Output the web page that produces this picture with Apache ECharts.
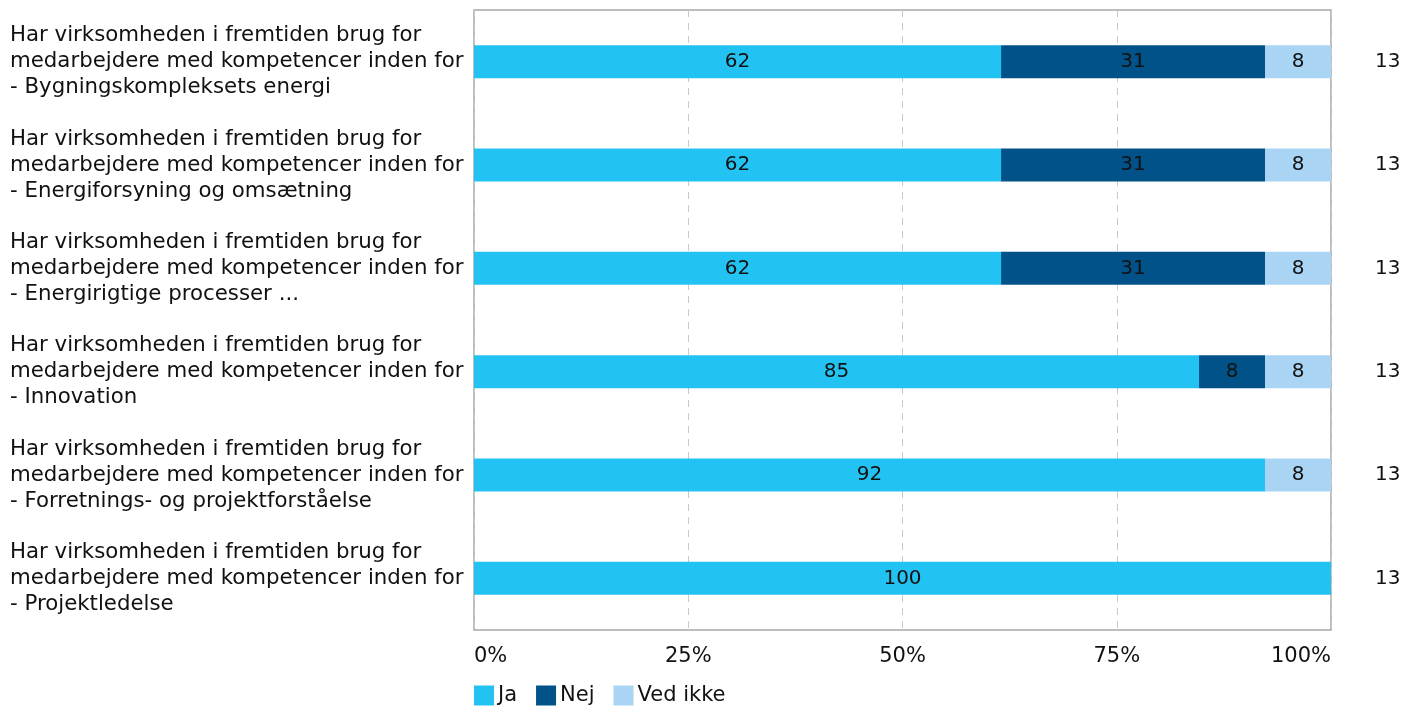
<!DOCTYPE html>
<html><head><meta charset="utf-8">
<script src="https://cdn.jsdelivr.net/npm/echarts@6/dist/echarts.min.js"></script>
<style>html,body{margin:0;padding:0;background:#fff}#c{width:1406px;height:706px}</style>
</head><body><div id="c"></div>
<script>
const categories = [
 "Har virksomheden i fremtiden brug for\nmedarbejdere med kompetencer inden for\n- Bygningskompleksets energi",
 "Har virksomheden i fremtiden brug for\nmedarbejdere med kompetencer inden for\n- Energiforsyning og omsætning",
 "Har virksomheden i fremtiden brug for\nmedarbejdere med kompetencer inden for\n- Energirigtige processer ...",
 "Har virksomheden i fremtiden brug for\nmedarbejdere med kompetencer inden for\n- Innovation",
 "Har virksomheden i fremtiden brug for\nmedarbejdere med kompetencer inden for\n- Forretnings- og projektforståelse",
 "Har virksomheden i fremtiden brug for\nmedarbejdere med kompetencer inden for\n- Projektledelse"
];
const ja = [61.5, 61.5, 61.5, 84.6, 92.3, 100];
const nej = [30.8, 30.8, 30.8, 7.7, null, null];
const vedIkke = [7.7, 7.7, 7.7, 7.7, 7.7, null];
const counts = ["13", "13", "13", "13", "13", "13"];
const xTicks = [0, 25, 50, 75, 100];

const FONT = "DejaVu Sans";
const chart = echarts.init(document.getElementById('c'));
const lbl = {show:true, position:'inside', color:'#111', fontSize:20, fontFamily:FONT,
  formatter: p => p.value == null ? '' : String(Math.round(p.value))};
function mk(name, data, color){
  return {name, type:'bar', stack:'t', data, barWidth:33, itemStyle:{color}, label:lbl, emphasis:{disabled:true}};
}
chart.setOption({
  animation:false,
  textStyle:{fontFamily:FONT},
  grid:{left:474, right:75, top:10, bottom:76, show:true, borderColor:'#a6a6a6', borderWidth:1.5},
  legend:{left:469, bottom:-5, itemWidth:20, itemHeight:20, itemGap:19, icon:'rect',
    textStyle:{fontSize:21, color:'#111', fontFamily:FONT, padding:[0,0,0,-1]},
    data:['Ja','Nej','Ved ikke']},
  xAxis:{type:'value', min:xTicks[0], max:xTicks[xTicks.length-1], interval:25,
    axisLine:{show:false}, axisTick:{show:false},
    splitLine:{show:true, lineStyle:{type:[7,6], color:'#c8c8c8', width:1}},
    axisLabel:{formatter:'{value}%', fontSize:21, color:'#111', margin:16, fontFamily:FONT,
      alignMinLabel:'left', alignMaxLabel:'right'}},
  yAxis:[
    {type:'category', data:categories, inverse:true, axisLine:{show:false}, axisTick:{show:false},
     axisLabel:{align:'left', margin:464, fontSize:21.3, lineHeight:26, color:'#111', fontFamily:FONT}},
    {type:'category', data:counts, inverse:true, position:'right', axisLine:{show:false}, axisTick:{show:false},
     axisLabel:{align:'left', margin:44, fontSize:20, color:'#111', fontFamily:FONT}}
  ],
  series:[mk('Ja', ja, '#22c3f3'), mk('Nej', nej, '#005288'), mk('Ved ikke', vedIkke, '#a9d4f4')]
});
</script></body></html>
